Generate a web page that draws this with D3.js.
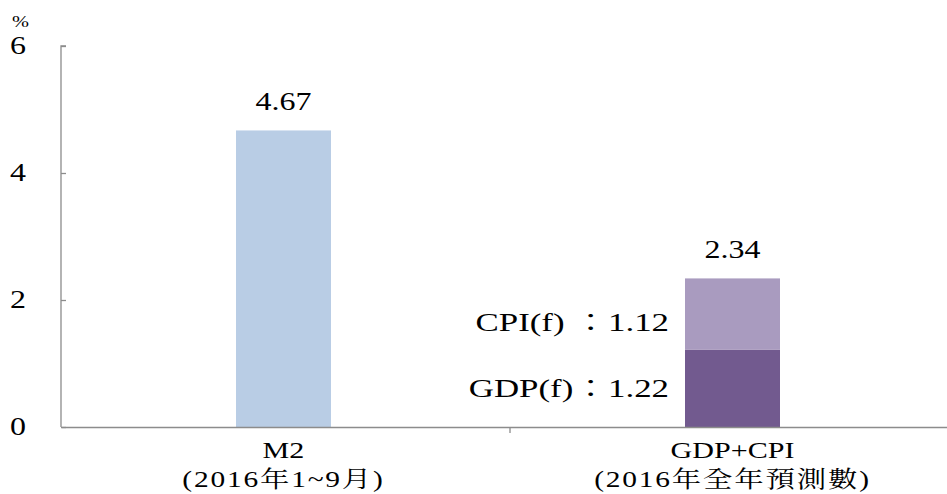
<!DOCTYPE html>
<html>
<head>
<meta charset="utf-8">
<script src="https://cdn.jsdelivr.net/npm/d3@7"></script>
<style>
  html, body { margin: 0; padding: 0; background: #fff; }
  svg { display: block; }
</style>
</head>
<body>
<svg id="chart" width="947" height="494"></svg>
<script>
// Categories and values (%)
const categories = ["M2", "GDP+CPI"];
const categorySubLabels = ["(2016年1~9月)", "(2016年全年預測數)"];
const m2Values = [4.67, 0];
const gdpValues = [0, 1.22];
const cpiValues = [0, 1.12];
const totalLabels = ["4.67", "2.34"];
const yTicks = [0, 2, 4, 6];

const colors = { m2: "#B9CDE5", gdp: "#725A8F", cpi: "#A99BBF", axis: "#8c8c8c" };
const FONT = "'Liberation Serif', 'DejaVu Serif', 'Noto Serif CJK TC', 'Noto Sans CJK TC', serif";

const svg = d3.select("#chart");
const margin = { left: 61, top: 46, right: -12, bottom: 67 };
const W = 947, H = 494;
const plotBottom = H - margin.bottom;  // 427
const plotRight = W - margin.right;

const SX = 1.28;   // horizontal text stretch
const FS = 25;

const x = d3.scaleBand().domain(categories).range([margin.left, plotRight]).paddingInner(0).paddingOuter(0);
const y = d3.scaleLinear().domain([0, 6]).range([plotBottom, margin.top]);

const barW = 95;

function label(g, tx, ty, str, anchor, size, opts) {
  opts = opts || {};
  g.append("g")
    .attr("transform", `translate(${tx},${ty}) scale(${opts.sx || SX},1)`)
    .append("text")
    .attr("text-anchor", anchor)
    .attr("font-family", FONT)
    .attr("font-size", size || FS)
    .attr("letter-spacing", opts.ls || 0)
    .attr("fill", "#000")
    .text(str);
}

// Stack the series
const rows = categories.map((c, i) => ({ cat: c, m2: m2Values[i], gdp: gdpValues[i], cpi: cpiValues[i] }));
const stack = d3.stack().keys(["m2", "gdp", "cpi"])(rows);

const barsG = svg.append("g");
stack.forEach(layer => {
  barsG.selectAll(null)
    .data(layer.filter(d => d[1] - d[0] > 0))
    .enter().append("rect")
    .attr("x", d => x(d.data.cat) + x.bandwidth() / 2 - barW / 2 - 2)
    .attr("width", barW)
    .attr("y", d => y(d[1]))
    .attr("height", d => y(d[0]) - y(d[1]))
    .attr("fill", colors[layer.key]);
});

// Y axis
const yAxis = d3.axisRight(y).tickValues(yTicks).tickSize(5).tickFormat("");
const yG = svg.append("g").attr("transform", `translate(${margin.left},0)`).call(yAxis);
yG.select(".domain").attr("stroke", colors.axis).attr("stroke-width", 1.3).attr("d", `M5,${y(6)}H0V${y(0)}`);
yG.selectAll(".tick line").attr("stroke", colors.axis).attr("stroke-width", 1.3);

// Y tick labels
const ytl = svg.append("g");
yTicks.forEach(t => label(ytl, 26, y(t) + 8, String(t), "end", FS));
label(ytl, 12, 27, "%", "start", 17, { sx: 1.2 });

// X axis
const xAxis = d3.axisBottom(x).tickSize(0).tickFormat("");
const xG = svg.append("g").attr("transform", `translate(0,${plotBottom})`).call(xAxis);
xG.select(".domain").attr("stroke", colors.axis).attr("stroke-width", 1.3);
xG.selectAll(".tick").remove();
// boundary tick between the two categories
xG.append("line")
  .attr("x1", x(categories[1])).attr("x2", x(categories[1]))
  .attr("y1", 0).attr("y2", 6)
  .attr("stroke", colors.axis).attr("stroke-width", 1.3);

// Category labels
const catG = svg.append("g");
categories.forEach((c, i) => {
  const cx = x(c) + x.bandwidth() / 2 - 2;
  label(catG, cx, 458, c, "middle", 23.5);
  label(catG, cx, 487, categorySubLabels[i], "middle", 23, { ls: 1.4 });
});

// Value labels
const valG = svg.append("g");
const totals = categories.map((c, i) => m2Values[i] + gdpValues[i] + cpiValues[i]);
categories.forEach((c, i) => {
  const cx = x(c) + x.bandwidth() / 2 - 2;
  label(valG, cx, y(totals[i]) - 20, totalLabels[i], "middle", FS);
});

// Component labels next to the stacked bar
const cx2 = x(categories[1]) + x.bandwidth() / 2 - 2;
const left2 = cx2 - barW / 2 - 16;
label(valG, left2, (y(gdpValues[1] + cpiValues[1]) + y(gdpValues[1])) / 2 + 17, "CPI(f) ：" + cpiValues[1].toFixed(2), "end", 26, { sx: 1.34 });
label(valG, left2, (y(gdpValues[1]) + y(0)) / 2 + 9, "GDP(f)：" + gdpValues[1].toFixed(2), "end", 26, { sx: 1.34 });
</script>
</body>
</html>
